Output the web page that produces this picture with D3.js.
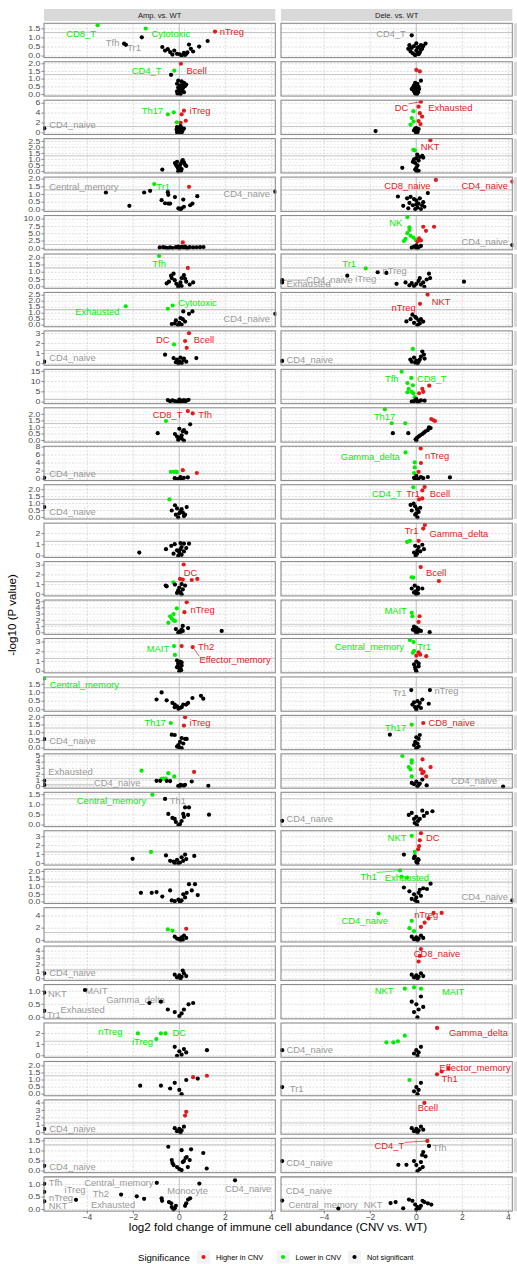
<!DOCTYPE html>
<html>
<head>
<meta charset="utf-8">
<script src="https://cdn.jsdelivr.net/npm/d3@7/dist/d3.min.js"></script>
<style>
  body { margin: 0; background: #fff; }
  svg text { font-family: "Liberation Sans", Arial, sans-serif; }
</style>
</head>
<body>
<script>
// facet columns and x axis
const columns = ["Amp. vs. WT", "Dele. vs. WT"];
const xTicks = [-4, -2, 0, 2, 4];

// y range (max of -log10 p) and tick step for each facet row
const rowYMax = [1.72, 2.03, 6.3, 2.6, 2.03, 10.7, 2.15, 2.6, 3.1, 15.2,
  2.38, 7.8, 2.25, 2.8, 3.2, 5.0, 3.2, 1.84, 2.02, 5.1,
  1.54, 3.5, 2.05, 5.1, 4.5, 1.2, 2.8, 2.2, 4.2, 1.55, 1.25];
const rowYStep = [0.5, 0.5, 2, 0.5, 0.5, 2.5, 0.5, 0.5, 1, 5,
  0.5, 2, 0.5, 1, 1, 1, 1, 0.5, 0.5, 1,
  0.5, 1, 0.5, 2, 1, 0.5, 1, 0.5, 1, 0.5, 0.5];

// points: [log2FC, -log10 p, significance] (0 = ns, 1 = higher, 2 = lower)
const ampPoints = [
  [[-3.55,1.7,2],[-1.46,1.52,2],[1.55,1.35,1],[-2.4,0.68,0],[-2.32,0.62,0],[-1.63,1.03,0],[-0.74,0.5,0],[-0.62,0.3,0],[-0.5,0.38,0],[-0.4,0.22,0],[-0.22,0.3,0],[-0.1,0.12,0],[0.02,0.1,0],[0.1,0.03,0],[0.2,0.18,0],[0.3,0.12,0],[0.35,0.2,0],[0.42,0.63,0],[0.5,0.4,0],[0.6,0.25,0],[0.86,0.52,0],[1.23,0.83,0],[-0.3,0.08,0],[0.25,0.06,0]],
  [[0.07,2.0,1],[-0.22,1.55,2],[-0.36,1.28,0],[-0.05,0.9,0],[0.1,0.85,0],[0.2,0.75,0],[-0.1,0.7,0],[0.05,0.6,0],[0.25,0.55,0],[-0.05,0.45,0],[0.15,0.4,0],[0.0,0.35,0],[0.1,0.25,0],[-0.1,0.2,0],[0.2,0.15,0],[0.0,0.1,0],[0.05,0.02,0],[-0.08,0.05,0],[0.12,0.6,0],[0.3,0.65,0],[0.0,0.5,0],[0.08,0.3,0]],
  [[0.2,4.5,1],[0.1,3.76,1],[0.28,2.46,1],[0.06,2.06,1],[-0.5,3.76,2],[-0.24,4.16,2],[-0.11,2.14,2],[-5.87,0.93,0],[-0.1,1.2,0],[0.1,1.0,0],[0.0,0.8,0],[-0.05,0.5,0],[0.05,0.3,0],[0.1,0.1,0],[0.0,0.0,0],[-0.1,0.2,0],[0.15,0.6,0],[0.05,1.4,0],[-0.12,0.7,0],[0.12,0.4,0],[0.0,1.1,0],[0.2,0.9,0],[-0.08,0.05,0],[0.07,0.15,0]],
  [[-0.74,0.15,0],[-0.19,0.7,0],[-0.1,0.8,0],[0.15,0.95,0],[0.25,0.55,0],[0.2,0.75,0],[0.03,0.3,0],[0.0,0.1,0],[-0.05,0.0,0],[0.1,0.2,0],[-0.1,0.4,0],[0.05,0.6,0],[0.3,0.45,0],[-0.15,0.55,0],[0.08,0.05,0],[0.0,0.45,0],[0.12,0.85,0],[-0.05,0.25,0]],
  [[-1.09,1.68,2],[0.42,1.5,1],[-3.19,1.13,0],[4.17,1.18,0],[-1.53,1.13,0],[-1.27,1.24,0],[-2.17,0.26,0],[-0.77,0.63,0],[-0.62,0.43,0],[-0.48,0.98,0],[-0.5,1.15,0],[-0.19,0.83,0],[0.17,0.67,0],[0.78,0.89,0],[0.57,0.41,0],[0.47,0.3,0],[-0.04,0.09,0],[0.1,0.1,0],[-0.48,0.41,0],[-0.4,0.41,0],[0.05,0.02,0],[0.2,0.2,0]],
  [[0.15,2.0,1],[-0.85,0.3,0],[-0.6,0.2,0],[-0.4,0.3,0],[-0.3,0.1,0],[-0.15,0.4,0],[0.0,0.2,0],[0.1,0.5,0],[0.2,0.3,0],[0.3,0.2,0],[0.45,0.4,0],[0.6,0.3,0],[0.75,0.35,0],[0.9,0.4,0],[1.05,0.45,0],[0.0,0.0,0],[-0.05,0.6,0],[0.35,0.05,0],[-0.5,0.05,0],[-0.7,0.4,0],[0.25,0.6,0]],
  [[-0.88,2.12,2],[0.37,1.3,1],[-0.36,0.76,0],[-0.33,0.6,0],[-0.55,0.23,0],[-0.45,0.35,0],[-0.2,0.45,0],[0.25,0.55,0],[0.1,0.6,0],[0.45,0.15,0],[0.6,0.3,0],[0.0,0.1,0],[-0.05,0.0,0],[0.1,0.05,0],[-0.13,0.2,0],[0.3,0.35,0],[-0.25,0.9,0],[0.2,0.8,0],[0.05,0.3,0]],
  [[-2.33,1.58,2],[-0.5,1.37,2],[-0.29,1.64,2],[0.17,1.15,0],[0.42,0.95,0],[0.57,1.15,0],[4.17,0.95,0],[-0.15,0.4,0],[0.0,0.2,0],[-0.33,0.1,0],[0.1,0.05,0],[-0.05,0.0,0],[0.05,0.6,0],[0.25,0.3,0],[-0.2,0.15,0],[0.15,0.5,0]],
  [[0.42,3.03,1],[0.25,2.25,1],[0.32,1.57,1],[-0.23,1.91,2],[-5.87,0.2,0],[-0.62,0.89,0],[0.74,0.55,0],[-0.25,0.55,0],[-0.1,0.4,0],[0.0,0.2,0],[0.17,0.35,0],[0.1,0.05,0],[-0.04,0.0,0],[0.05,0.6,0],[0.3,0.2,0],[-0.15,0.15,0],[0.2,0.5,0]],
  [[-0.5,1.0,0],[-0.3,0.8,0],[0.0,1.2,0],[0.2,1.0,0],[0.3,0.7,0],[0.1,0.3,0],[-0.1,0.2,0],[0.0,0.0,0],[-0.2,0.5,0],[0.15,0.6,0],[0.4,1.1,0],[-0.4,0.4,0],[0.05,0.9,0],[0.25,0.2,0]],
  [[0.37,2.25,1],[0.58,2.07,1],[-0.58,1.49,2],[0.47,1.24,0],[-0.94,0.56,0],[0.0,0.9,0],[0.2,0.8,0],[-0.19,0.5,0],[0.1,0.4,0],[0.0,0.2,0],[0.2,0.0,0],[-0.05,0.05,0],[0.3,0.6,0],[0.15,0.7,0],[-0.1,0.3,0],[0.1,0.15,0]],
  [[-0.37,1.8,2],[-0.25,1.8,2],[-0.11,1.75,2],[-0.15,1.85,2],[0.15,2.2,1],[0.76,1.5,1],[-5.87,0.3,0],[0.37,0.4,0],[-0.2,0.2,0],[0.0,0.1,0],[0.2,0.3,0],[0.05,0.5,0],[-0.1,0.0,0],[0.1,0.05,0]],
  [[-0.43,1.3,2],[-5.87,0.75,0],[-0.19,0.88,0],[0.32,0.75,0],[0.1,0.6,0],[0.0,0.3,0],[-0.15,0.2,0],[0.2,0.1,0],[-0.33,0.5,0],[-0.05,0.0,0],[0.05,0.45,0],[0.15,0.35,0],[0.25,0.2,0],[-0.1,0.65,0]],
  [[-1.74,0.3,0],[-0.58,0.6,0],[-0.35,0.9,0],[-0.2,1.05,0],[0.05,1.15,0],[0.2,1.1,0],[0.42,1.1,0],[0.1,0.8,0],[-0.1,0.5,0],[0.0,0.3,0],[0.1,0.1,0],[-0.05,0.0,0],[0.2,0.4,0],[0.05,0.6,0],[0.3,0.7,0],[-0.25,0.2,0]],
  [[0.19,3.06,1],[0.03,1.58,1],[0.15,1.52,1],[0.54,1.47,1],[0.78,1.58,1],[-0.26,1.23,2],[-0.59,0.9,0],[-0.55,0.82,0],[-0.19,1.0,0],[0.1,1.05,0],[0.0,0.7,0],[-0.05,0.4,0],[0.05,0.2,0],[0.1,0.0,0],[0.25,0.9,0],[-0.1,0.15,0],[0.15,0.5,0]],
  [[0.32,4.9,1],[0.22,3.3,1],[-0.11,3.9,2],[-0.25,3.0,2],[-0.4,2.65,2],[-0.33,2.3,2],[-0.25,2.0,2],[-0.19,1.9,2],[-0.48,1.6,2],[1.84,0.3,0],[0.15,1.1,0],[0.38,0.75,0],[0.1,0.5,0],[0.0,0.2,0],[-0.05,0.0,0],[0.15,0.3,0],[-0.15,0.6,0],[0.05,0.1,0]],
  [[-0.23,2.58,2],[-0.19,1.67,2],[0.1,2.58,1],[0.58,2.48,1],[-0.1,1.1,0],[0.03,1.0,0],[-0.05,0.8,0],[0.1,0.6,0],[-0.1,0.4,0],[0.03,0.2,0],[0.0,0.0,0],[0.1,0.9,0],[-0.07,0.5,0],[0.05,0.3,0],[0.08,0.1,0]],
  [[-5.87,1.84,2],[-0.77,1.02,0],[-0.99,0.6,0],[-0.55,0.55,0],[0.94,0.82,0],[1.04,0.65,0],[0.57,0.69,0],[0.38,0.4,0],[0.3,0.3,0],[-0.3,0.4,0],[-0.2,0.3,0],[-0.1,0.2,0],[0.03,0.1,0],[0.1,0.15,0],[0.17,0.3,0],[-0.04,0.05,0],[-0.2,0.15,0]],
  [[-0.37,1.63,2],[0.25,2.0,1],[0.2,1.46,1],[-5.87,0.59,0],[-0.33,0.87,0],[-0.2,0.85,0],[0.1,0.65,0],[0.25,0.6,0],[0.32,0.6,0],[0.03,0.4,0],[-0.04,0.2,0],[0.0,0.05,0],[0.17,0.3,0],[-0.1,0.1,0],[0.1,0.0,0]],
  [[-1.64,2.6,2],[-0.48,2.2,2],[-0.22,1.67,2],[-0.77,1.28,2],[-0.7,1.3,2],[-0.59,1.3,2],[0.64,2.4,1],[-5.87,0.95,0],[-5.87,0.28,0],[-0.99,0.95,0],[-0.83,0.95,0],[0.54,0.83,0],[1.26,0.12,0],[-0.05,0.1,0],[0.05,0.3,0],[0.1,0.2,0],[0.2,0.15,0],[0.25,0.3,0],[0.0,0.0,0],[-0.4,0.9,0],[-0.55,0.95,0]],
  [[-1.17,1.5,2],[-0.62,1.29,0],[0.25,0.87,0],[0.42,0.87,0],[1.29,0.51,0],[-0.48,0.55,0],[-0.3,0.35,0],[0.17,0.55,0],[0.38,0.5,0],[-0.15,0.15,0],[0.03,0.05,0],[-0.04,0.0,0],[0.1,0.2,0],[-0.2,0.3,0],[0.2,0.4,0]],
  [[-1.23,1.3,2],[-2.03,0.52,0],[-0.58,0.9,0],[0.25,1.0,0],[0.65,0.85,0],[0.1,0.7,0],[-0.4,0.3,0],[-0.25,0.2,0],[-0.1,0.4,0],[0.03,0.1,0],[-0.04,0.0,0],[-0.2,0.05,0],[0.17,0.3,0],[0.3,0.5,0]],
  [[-1.67,0.6,0],[-1.2,0.6,0],[-0.99,0.65,0],[-0.74,0.35,0],[-0.4,0.76,0],[0.42,1.17,0],[0.68,1.17,0],[0.54,0.76,0],[0.8,0.45,0],[0.32,0.6,0],[0.17,0.5,0],[-0.33,0.1,0],[-0.2,0.05,0],[0.03,0.0,0],[0.1,0.1,0],[-0.04,0.15,0],[0.25,0.3,0]],
  [[-0.3,1.6,2],[-0.5,1.8,2],[0.3,1.9,1],[0.0,0.2,0],[0.1,0.5,0],[-0.1,0.3,0],[0.2,0.8,0],[0.05,0.0,0],[-0.2,0.6,0],[0.3,0.4,0],[0.15,0.1,0]],
  [[-5.87,0.8,0],[0.0,0.5,0],[0.1,0.3,0],[-0.1,0.2,0],[0.2,0.8,0],[0.05,0.0,0],[-0.2,0.6,0],[0.3,0.4,0],[0.15,1.2,0]],
  [[-5.87,0.95,0],[-4.1,1.05,0],[-5.87,0.25,0],[-1.3,0.55,0],[-0.8,0.6,0],[-0.5,0.3,0],[-0.2,0.2,0],[0.0,0.05,0],[0.2,0.3,0],[0.4,0.5,0],[0.6,0.55,0],[0.1,0.15,0]],
  [[-1.8,2.0,2],[-0.8,2.0,2],[-0.6,2.0,2],[-1.0,1.5,2],[1.2,0.5,0],[-0.2,0.8,0],[0.0,0.4,0],[0.2,0.6,0],[0.1,0.1,0],[-0.1,0.0,0],[0.3,0.3,0]],
  [[0.6,1.2,1],[1.2,1.3,1],[-1.7,0.6,0],[-0.8,0.6,0],[-0.2,0.8,0],[0.3,1.0,0],[0.8,1.1,0],[0.0,0.3,0],[0.1,0.0,0],[-0.4,0.4,0]],
  [[0.3,2.8,1],[0.25,2.3,1],[-5.87,0.5,0],[0.0,0.5,0],[0.1,0.3,0],[-0.1,0.2,0],[0.2,0.8,0],[0.05,0.0,0],[-0.2,0.6,0]],
  [[-0.48,1.21,0],[0.1,1.04,0],[0.51,1.08,0],[1.04,0.9,0],[1.19,0.13,0],[0.32,0.7,0],[0.2,0.5,0],[0.15,0.45,0],[-0.33,0.55,0],[-0.3,0.4,0],[-0.25,0.3,0],[-0.1,0.2,0],[0.0,0.1,0],[0.1,0.05,0],[0.37,0.2,0],[0.45,0.55,0],[0.27,0.65,0],[-5.87,0.26,0]],
  [[-5.87,1.03,0],[-5.87,0.71,0],[-5.87,0.33,0],[-4.49,0.39,0],[-2.53,0.6,0],[-1.85,0.53,0],[-1.53,0.43,0],[-0.98,1.07,0],[0.87,1.04,0],[2.42,1.17,0],[-0.77,0.45,0],[-0.75,0.35,0],[-0.45,0.3,0],[-0.35,0.25,0],[-0.33,0.1,0],[-0.2,0.05,0],[-0.25,0.0,0],[-0.15,0.15,0],[0.25,0.15,0],[0.3,0.25,0],[0.38,0.4,0],[0.47,0.45,0]]
];
const delePoints = [
  [[-0.2,1.14,0],[0.4,0.69,0],[-0.3,0.6,0],[-0.2,0.45,0],[-0.1,0.55,0],[0.0,0.3,0],[0.1,0.5,0],[0.2,0.6,0],[0.25,0.4,0],[-0.25,0.25,0],[0.05,0.15,0],[-0.05,0.05,0],[0.15,0.2,0],[0.3,0.55,0],[-0.35,0.4,0],[0.0,0.7,0],[0.1,0.1,0],[-0.15,0.15,0],[0.2,0.35,0],[0.05,0.45,0]],
  [[0.0,1.6,1],[0.15,1.5,1],[0.2,0.9,0],[-0.05,0.75,0],[0.05,0.7,0],[-0.1,0.6,0],[0.0,0.55,0],[0.1,0.5,0],[-0.15,0.45,0],[0.0,0.4,0],[-0.05,0.3,0],[0.05,0.25,0],[-0.1,0.2,0],[0.08,0.15,0],[0.0,0.1,0],[-0.05,0.05,0],[0.02,0.02,0],[0.12,0.35,0],[-0.2,0.35,0]],
  [[0.2,6.3,1],[0.1,5.3,1],[0.15,4.0,1],[0.25,3.3,1],[0.1,2.4,1],[0.18,1.8,1],[-0.13,4.4,2],[-0.2,3.0,2],[-0.12,2.3,2],[-0.25,1.7,2],[-1.77,0.38,0],[0.0,1.0,0],[-0.05,0.6,0],[0.05,0.3,0],[0.0,0.1,0],[-0.1,0.5,0],[0.1,0.8,0],[0.0,0.0,0],[0.05,0.2,0],[-0.05,0.9,0]],
  [[0.61,2.6,1],[-0.13,1.8,2],[-0.07,1.75,2],[0.04,1.4,0],[0.26,1.3,0],[0.3,1.15,0],[-0.61,0.3,0],[0.0,1.1,0],[-0.1,1.0,0],[0.1,0.9,0],[-0.05,0.7,0],[0.05,0.5,0],[0.0,0.3,0],[-0.05,0.15,0],[0.02,0.02,0],[0.15,1.2,0],[-0.15,0.8,0],[0.1,0.05,0]],
  [[0.85,1.95,1],[4.17,1.84,1],[0.5,1.09,0],[-0.8,0.87,0],[-0.57,0.26,0],[-0.4,0.75,0],[-0.25,0.85,0],[-0.1,0.7,0],[0.0,0.6,0],[0.15,0.75,0],[0.3,0.5,0],[0.35,0.2,0],[-0.3,0.45,0],[-0.15,0.3,0],[0.05,0.15,0],[-0.05,0.05,0],[0.2,0.05,0],[0.1,0.4,0],[-0.35,0.1,0],[0.0,0.35,0],[0.25,0.3,0]],
  [[-0.39,10.7,2],[-0.3,7.2,2],[-0.3,6.3,2],[-0.39,5.2,2],[-0.47,3.2,2],[-0.25,4.3,2],[-0.13,3.7,2],[-0.03,2.9,2],[-0.54,2.5,2],[0.3,7.4,1],[0.77,7.4,1],[0.42,6.0,1],[0.12,3.4,1],[0.2,2.7,1],[0.05,2.3,1],[4.17,1.1,0],[0.0,1.0,0],[-0.1,0.6,0],[0.1,0.4,0],[0.0,0.1,0],[0.2,0.8,0],[-0.2,0.2,0],[0.05,0.0,0]],
  [[-2.2,1.26,2],[-3.0,0.76,0],[-1.68,1.0,0],[-1.3,0.95,0],[-5.83,0.45,0],[-5.83,0.3,0],[2.07,0.35,0],[0.55,0.9,0],[-0.86,0.2,0],[-0.47,0.3,0],[-0.3,0.1,0],[-0.1,0.05,0],[0.0,0.2,0],[0.1,0.4,0],[0.2,0.15,0],[0.3,0.3,0],[0.45,0.5,0],[0.6,0.6,0],[0.35,0.0,0],[-0.2,0.25,0],[0.15,0.6,0]],
  [[0.49,2.55,1],[0.16,1.78,1],[-0.17,0.87,0],[-0.43,0.31,0],[0.0,0.6,0],[0.1,0.4,0],[-0.1,0.2,0],[0.05,0.0,0],[0.2,0.5,0],[-0.05,0.7,0],[0.15,0.15,0],[0.3,0.3,0],[-0.25,0.5,0]],
  [[-0.15,1.46,2],[-5.83,0.27,0],[0.26,1.2,0],[0.33,0.9,0],[0.36,0.5,0],[-0.26,0.4,0],[-0.1,0.6,0],[0.0,0.3,0],[0.1,0.2,0],[0.05,0.0,0],[-0.05,0.1,0],[0.2,0.7,0],[0.15,0.4,0],[-0.2,0.2,0]],
  [[-0.64,14.8,2],[-0.22,11.8,2],[-0.39,9.3,2],[-0.15,8.2,2],[-0.33,6.4,2],[-0.39,4.8,2],[-0.2,5.0,2],[-0.13,4.3,2],[-0.07,2.4,2],[0.56,8.0,1],[0.26,6.5,1],[0.3,5.0,1],[0.12,4.3,1],[0.36,0.7,0],[0.0,1.0,0],[-0.1,0.5,0],[0.1,0.2,0],[0.05,0.0,0],[0.2,0.8,0],[-0.2,0.3,0],[0.0,1.5,0]],
  [[-1.37,2.38,2],[-1.07,1.32,2],[-0.48,1.32,2],[0.65,1.64,1],[0.81,1.49,1],[0.75,1.55,1],[-1.02,0.56,0],[-0.35,0.56,0],[-0.03,0.1,0],[0.03,0.2,0],[0.17,0.4,0],[0.33,0.6,0],[0.5,0.8,0],[0.62,0.95,0],[0.1,0.3,0],[0.26,0.5,0],[0.4,0.7,0],[0.0,0.0,0],[0.55,1.0,0]],
  [[-0.47,6.65,2],[-0.07,4.15,2],[-0.07,2.9,2],[-0.1,1.5,2],[0.19,7.65,1],[0.2,4.0,1],[0.1,1.8,1],[1.46,0.4,0],[0.5,0.5,0],[0.0,0.8,0],[-0.1,0.3,0],[0.1,0.1,0],[0.2,0.5,0],[-0.05,0.0,0],[0.3,0.2,0]],
  [[-0.13,2.18,2],[0.36,2.2,1],[0.26,1.95,1],[0.26,1.37,1],[0.12,1.3,1],[-0.12,1.0,0],[-0.05,0.8,0],[0.03,0.6,0],[0.1,0.4,0],[-0.05,0.2,0],[0.05,0.0,0],[-0.2,0.5,0],[0.17,0.7,0],[-0.25,0.9,0],[0.0,0.3,0]],
  [[0.37,2.78,1],[0.3,2.45,1],[0.1,1.35,1],[-0.28,1.35,2],[-0.4,1.25,2],[0.26,1.0,0],[0.1,0.8,0],[-0.05,0.9,0],[0.05,0.5,0],[0.17,0.4,0],[0.03,0.2,0],[-0.03,0.0,0],[0.33,0.6,0],[-0.1,0.3,0]],
  [[0.19,2.8,1],[0.98,1.37,1],[-0.2,1.75,2],[-0.13,1.72,2],[-0.07,0.9,0],[0.07,0.7,0],[0.07,0.5,0],[-0.03,0.3,0],[0.07,0.1,0],[0.26,0.6,0],[-0.2,0.6,0],[0.0,0.0,0],[-0.1,0.2,0]],
  [[-0.2,3.2,2],[-0.17,2.65,2],[0.14,2.65,1],[0.1,1.75,1],[0.58,0.1,0],[-0.1,1.0,0],[0.0,0.8,0],[0.1,0.5,0],[-0.05,0.3,0],[0.05,0.1,0],[-0.15,0.5,0],[0.2,0.3,0],[0.0,0.0,0]],
  [[-0.28,3.2,2],[-0.12,3.0,2],[-0.1,2.1,2],[-0.15,1.9,2],[0.1,1.95,1],[0.17,1.7,1],[0.43,1.55,1],[0.0,1.6,1],[0.0,1.0,0],[-0.1,0.7,0],[0.1,0.5,0],[-0.03,0.2,0],[0.0,0.0,0],[0.1,0.8,0],[-0.05,0.4,0]],
  [[-0.22,1.16,0],[0.59,1.16,0],[-0.1,0.43,0],[0.26,0.6,0],[0.54,0.35,0],[0.1,0.2,0],[0.0,0.0,0],[-0.17,0.3,0],[0.05,0.5,0],[0.2,0.1,0],[-0.05,0.15,0],[0.15,0.4,0]],
  [[-0.2,1.52,2],[0.3,1.63,1],[-1.15,0.87,0],[0.0,0.7,0],[-0.05,0.4,0],[0.1,0.6,0],[-0.1,0.2,0],[0.0,0.0,0],[0.15,0.85,0],[0.05,0.3,0],[0.1,0.1,0]],
  [[-0.61,5.0,2],[-0.2,4.3,2],[-0.2,3.9,2],[-0.33,3.2,2],[-0.25,2.8,2],[-0.2,1.67,2],[0.27,4.45,1],[0.62,3.2,1],[0.2,2.8,1],[0.32,2.4,1],[0.26,2.2,1],[0.43,1.67,1],[3.77,0.0,0],[0.26,1.15,0],[0.45,0.2,0],[0.0,0.8,0],[-0.1,0.4,0],[0.1,0.3,0],[0.05,0.0,0],[-0.2,0.6,0],[0.15,0.5,0]],
  [[-5.83,0.21,0],[0.26,0.71,0],[0.7,0.68,0],[0.46,0.6,0],[-0.33,0.5,0],[-0.2,0.6,0],[0.0,0.4,0],[0.07,0.2,0],[0.15,0.3,0],[-0.07,0.1,0],[0.03,0.0,0],[0.33,0.45,0],[-0.1,0.3,0]],
  [[-0.2,3.1,2],[-0.07,1.3,2],[0.2,3.4,1],[0.15,2.6,1],[0.12,1.95,1],[0.08,1.6,1],[-0.54,1.0,0],[-0.07,0.8,0],[0.07,0.5,0],[0.0,0.2,0],[0.05,0.0,0],[0.1,0.4,0],[-0.1,0.6,0]],
  [[-0.71,2.07,2],[-0.64,1.67,2],[-0.4,1.6,2],[4.17,0.1,0],[-0.54,0.95,0],[0.3,0.9,0],[0.46,0.85,0],[0.62,1.2,0],[-0.3,0.7,0],[-0.1,0.5,0],[0.0,0.3,0],[0.1,0.6,0],[0.2,0.4,0],[-0.2,0.2,0],[0.05,0.0,0],[0.15,0.8,0],[-0.05,0.1,0]],
  [[-1.64,4.4,2],[-0.2,3.2,2],[-0.3,2.0,2],[-0.1,1.5,2],[0.75,4.5,1],[1.1,4.5,1],[0.53,3.6,1],[0.36,2.9,1],[0.2,2.2,1],[0.0,0.5,0],[0.1,0.3,0],[-0.1,0.2,0],[0.2,0.8,0],[0.05,0.0,0],[-0.2,0.6,0],[0.3,0.4,0]],
  [[0.2,4.3,1],[0.15,3.3,1],[0.1,2.5,1],[0.0,0.5,0],[0.1,0.3,0],[-0.1,0.2,0],[0.2,0.8,0],[0.05,0.0,0],[-0.2,0.6,0],[0.3,0.4,0]],
  [[-0.5,1.1,2],[-0.1,1.15,2],[0.2,1.1,2],[0.0,0.5,0],[0.1,0.3,0],[-0.1,0.2,0],[0.2,0.8,0],[0.05,0.0,0],[-0.2,0.6,0],[0.3,0.4,0]],
  [[0.9,2.5,1],[-0.5,1.8,2],[-0.8,1.3,2],[-1.0,1.2,2],[-1.3,1.2,2],[-5.83,0.5,0],[0.0,0.5,0],[0.1,0.3,0],[-0.1,0.2,0],[0.2,0.8,0],[0.05,0.0,0]],
  [[1.1,1.6,1],[1.4,1.8,1],[0.9,1.4,1],[-0.3,1.0,2],[-5.83,0.5,0],[0.0,0.5,0],[0.1,0.3,0],[-0.1,0.2,0],[0.2,0.8,0],[0.05,0.0,0]],
  [[0.35,4.0,1],[0.0,0.5,0],[0.1,0.3,0],[-0.1,0.2,0],[0.2,0.8,0],[0.05,0.0,0],[-0.2,0.6,0],[0.3,0.4,0]],
  [[0.48,1.5,1],[0.55,1.25,0],[-5.83,0.5,0],[-0.78,0.31,0],[-0.43,0.31,0],[0.3,0.95,0],[0.25,0.8,0],[0.4,0.73,0],[-0.1,0.5,0],[0.0,0.3,0],[0.2,0.45,0],[0.28,0.2,0],[0.15,0.1,0],[0.05,0.0,0]],
  [[-5.83,0.36,0],[-3.39,0.04,0],[-1.12,0.26,0],[-0.9,0.3,0],[-0.57,0.05,0],[-0.32,0.4,0],[-0.17,0.35,0],[-0.05,0.2,0],[0.0,0.0,0],[0.05,0.1,0],[0.2,0.15,0],[0.35,0.3,0],[0.5,0.25,0],[0.65,0.2,0],[0.27,0.35,0],[0.13,0.05,0]]
];

// labels: [row, name, significance, labelX, labelY, pointX, pointY] (point only where a leader line is drawn)
const ampLabels = [
  [0,"CD8_T",2,-4.27,1.27],[0,"Tfh",0,-2.9,0.75],[0,"Tr1",0,-1.97,0.47],[0,"Cytotoxic",2,-0.37,1.27],[0,"nTreg",1,2.28,1.35],
  [1,"CD4_T",2,-1.42,1.55],[1,"Bcell",1,0.75,1.55],
  [2,"CD4_naive",0,-4.64,1.74],[2,"Th17",2,-1.17,4.63],[2,"iTreg",1,0.9,4.63],
  [4,"Central_memory",0,-4.15,1.53],[4,"Tr1",2,-0.7,1.53],[4,"CD4_naive",0,2.93,1.09],
  [6,"Tfh",2,-0.88,1.6],
  [7,"Exhausted",2,-3.56,1.17],[7,"Cytotoxic",2,0.79,1.92],[7,"CD4_naive",0,2.93,0.53],
  [8,"DC",1,-0.72,2.42],[8,"Bcell",1,1.07,2.42],[8,"CD4_naive",0,-4.64,0.61],
  [10,"CD8_T",1,-0.51,1.95],[10,"Tfh",1,1.12,1.95],
  [11,"CD4_naive",0,-4.64,1.25],
  [12,"CD4_naive",0,-4.64,0.45],
  [14,"DC",1,0.49,2.28],
  [15,"nTreg",1,1.01,3.75],
  [16,"MAIT",2,-0.93,2.3],[16,"Th2",1,1.16,2.58],[16,"Effector_memory",1,2.42,1.17,0.58,2.48],
  [17,"Central_memory",2,-4.13,1.47],
  [18,"Th17",2,-1.05,1.63],[18,"iTreg",1,0.9,1.63],[18,"CD4_naive",0,-4.64,0.52],
  [19,"Exhausted",0,-4.73,2.5],[19,"CD4_naive",0,-2.7,0.72,-5.87,0.28],
  [20,"Central_memory",2,-2.95,1.2],[20,"Th1",0,-0.06,1.2],
  [24,"CD4_naive",0,-4.64,0.9],
  [25,"NKT",0,-5.3,0.9],[25,"MAIT",0,-3.6,1.05],[25,"Gamma_delta",0,-1.9,0.7],[25,"Tr1",0,-5.45,0.1],[25,"Exhausted",0,-4.2,0.3],
  [26,"nTreg",2,-3.0,2.2],[26,"DC",2,0.0,2.1],[26,"iTreg",2,-1.6,1.3],
  [28,"CD4_naive",0,-4.64,0.6],
  [29,"CD4_naive",0,-4.64,0.22],
  [30,"Tfh",0,-5.38,1.07],[30,"iTreg",0,-4.53,0.79],[30,"nTreg",0,-5.14,0.5],[30,"NKT",0,-5.27,0.17],[30,"Th2",0,-3.41,0.64],
  [30,"Exhausted",0,-2.88,0.21],[30,"Central_memory",0,-2.63,1.07],[30,"Monocyte",0,0.36,0.76],[30,"CD4_naive",0,2.99,0.83]
];
const deleLabels = [
  [0,"CD4_T",0,-1.1,1.27],
  [2,"DC",1,-0.64,5.17,0.2,6.3],[2,"Exhausted",1,1.48,5.17],
  [3,"NKT",1,0.6,2.1],
  [4,"CD8_naive",1,-0.39,1.56],[4,"CD4_naive",1,2.97,1.56],
  [5,"NK",2,-0.89,8.9],[5,"CD4_naive",0,2.97,2.3],
  [6,"Tr1",2,-2.92,1.6],[6,"iTreg",0,-2.2,0.59],[6,"nTreg",0,-0.94,1.13],[6,"CD4_naive",0,-3.77,0.52,-5.83,0.45],[6,"Exhausted",0,-4.68,0.23],
  [7,"nTreg",1,-0.55,1.5],[7,"NKT",1,1.08,1.97],
  [8,"CD4_naive",0,-4.63,0.44],
  [9,"Tfh",2,-1.07,11.3],[9,"CD8_T",2,0.67,11.3],
  [10,"Th17",2,-1.38,1.82],
  [11,"Gamma_delta",2,-2.0,5.6],[11,"nTreg",1,0.9,5.8],
  [12,"CD4_T",2,-1.28,1.75],[12,"Tr1",1,-0.14,1.7],[12,"Bcell",1,1.03,1.75],
  [13,"Tr1",1,-0.21,2.3],[13,"Gamma_delta",1,1.85,2.0],
  [14,"Bcell",1,0.86,2.2],
  [15,"MAIT",2,-0.9,3.6],
  [16,"Central_memory",2,-2.04,2.58],[16,"Tr1",2,0.34,2.58],
  [17,"Tr1",0,-0.73,1.02],[17,"nTreg",0,1.31,1.16],
  [18,"Th17",2,-0.9,1.35],[18,"CD8_naive",1,1.54,1.63],
  [19,"CD4_naive",0,2.51,0.95],
  [20,"CD4_naive",0,-4.63,0.3],
  [21,"NKT",2,-0.84,2.9],[21,"DC",1,0.71,2.9],
  [22,"Th1",2,-2.07,1.7,-0.71,2.07],[22,"Exhausted",2,-0.41,1.6],[22,"CD4_naive",0,2.97,0.33],
  [23,"CD4_naive",2,-2.24,3.25],[23,"nTreg",1,0.43,4.22],
  [24,"CD8_naive",1,0.9,3.7],
  [25,"NKT",2,-1.4,1.05],[25,"MAIT",2,1.6,1.0],
  [26,"Gamma_delta",1,2.7,2.1],[26,"CD4_naive",0,-4.63,0.6],
  [27,"Effector_memory",1,2.55,1.85],[27,"Th1",1,1.45,1.1],[27,"Tr1",0,-5.2,0.4],
  [28,"Bcell",1,0.5,3.4],
  [29,"CD4_T",1,-1.17,1.25,0.48,1.5],[29,"Tfh",0,1.01,1.16],[29,"CD4_naive",0,-4.64,0.44],
  [30,"CD4_naive",0,-4.67,0.76],[30,"Central_memory",0,-4.05,0.21],[30,"NKT",0,-1.88,0.21]
];

const legendItems = [["Higher in CNV", 1], ["Lower in CNV", 2], ["Not significant", 0]];

// layout
const width = 517, height = 1264;
const colX = [44, 281];
const panelW = 231.3, panelH = 34.3, top0 = 23.3, pitch = 38.45;
const pointColor = {0: "#000000", 1: "#e31a1c", 2: "#00ee00"};
const labelColor = {0: "#999999", 1: "#e31a1c", 2: "#00ee00"};

const svg = d3.select("body").append("svg")
  .attr("width", width)
  .attr("height", height);

const x = d3.scaleLinear().domain([-5.88, 4.17]).range([0, panelW]);
const xMinor = [-5, -3, -1, 1, 3];

const fmt = step => (step % 1 !== 0) ? d3.format(".1f") : d3.format("d");

// strips on top
columns.forEach((c, ci) => {
  svg.append("rect").attr("x", colX[ci]).attr("y", 9).attr("width", panelW).attr("height", 12)
    .attr("fill", "#d9d9d9");
  svg.append("text").attr("x", colX[ci] + panelW / 2).attr("y", 15.2)
    .attr("text-anchor", "middle").attr("dominant-baseline", "central")
    .attr("font-size", "7.6px").attr("fill", "#1a1a1a").text(c);
});

const allPoints = [ampPoints, delePoints];
const allLabels = [ampLabels, deleLabels];

rowYMax.forEach((m, r) => {
  const top = top0 + r * pitch;
  const y = d3.scaleLinear().domain([-0.05 * m, 1.05 * m]).range([panelH, 0]);
  const step = rowYStep[r];
  const ticks = d3.range(0, 1.05 * m + 1e-9, step);
  const minor = d3.range(step / 2, 1.05 * m, step);

  // right side strip (cut off)
  svg.append("rect").attr("x", 513.8).attr("y", top).attr("width", 10).attr("height", panelH)
    .attr("fill", "#d9d9d9");

  // y axis labels (shared by the row), slightly squashed like the source
  const ya = svg.append("g").attr("transform", `translate(${colX[0]},${top})`);
  ticks.forEach(t => {
    ya.append("line").attr("x1", -2.5).attr("x2", 0).attr("y1", y(t)).attr("y2", y(t))
      .attr("stroke", "#333").attr("stroke-width", 0.6);
    ya.append("text").attr("transform", `translate(-3.5,${y(t)}) scale(1,0.82)`)
      .attr("text-anchor", "end")
      .attr("dominant-baseline", "central").attr("font-size", "8.8px").attr("fill", "#4d4d4d")
      .text(fmt(step)(t));
  });

  columns.forEach((c, ci) => {
    const g = svg.append("g").attr("transform", `translate(${colX[ci]},${top})`);
    g.append("rect").attr("width", panelW).attr("height", panelH).attr("fill", "#fff");
    // grid
    xMinor.forEach(v => g.append("line").attr("x1", x(v)).attr("x2", x(v)).attr("y1", 0).attr("y2", panelH)
      .attr("stroke", "#e6e6e6").attr("stroke-width", 0.6).attr("stroke-dasharray", "1.5,1.5"));
    minor.forEach(v => g.append("line").attr("x1", 0).attr("x2", panelW).attr("y1", y(v)).attr("y2", y(v))
      .attr("stroke", "#e6e6e6").attr("stroke-width", 0.6).attr("stroke-dasharray", "1.5,1.5"));
    xTicks.forEach(v => g.append("line").attr("x1", x(v)).attr("x2", x(v)).attr("y1", 0).attr("y2", panelH)
      .attr("stroke", "#d4d4d4").attr("stroke-width", 0.8).attr("stroke-dasharray", "2,1.5"));
    ticks.forEach(v => g.append("line").attr("x1", 0).attr("x2", panelW).attr("y1", y(v)).attr("y2", y(v))
      .attr("stroke", "#d4d4d4").attr("stroke-width", 0.8).attr("stroke-dasharray", "2,1.5"));
    // reference lines
    g.append("line").attr("x1", x(0)).attr("x2", x(0)).attr("y1", 0).attr("y2", panelH)
      .attr("stroke", "#c8c8c8").attr("stroke-width", 1.1);
    if (-Math.log10(0.05) < 1.05 * m) {
      g.append("line").attr("x1", 0).attr("x2", panelW).attr("y1", y(-Math.log10(0.05))).attr("y2", y(-Math.log10(0.05)))
        .attr("stroke", "#c8c8c8").attr("stroke-width", 1.1);
    }

    const clipId = `clip-${r}-${ci}`;
    g.append("clipPath").attr("id", clipId).append("rect")
      .attr("x", -1).attr("y", -1).attr("width", panelW + 2).attr("height", panelH + 2);
    const inner = g.append("g").attr("clip-path", `url(#${clipId})`);

    // labels with optional leader lines
    const labs = allLabels[ci].filter(d => d[0] === r);
    labs.forEach(d => {
      const t = inner.append("text").attr("x", x(d[3])).attr("y", y(d[4]))
        .attr("text-anchor", "middle").attr("dominant-baseline", "central")
        .attr("font-size", "9.4px").attr("fill", labelColor[d[2]]).text(d[1]);
      if (d.length > 5) {
        const b = t.node().getBBox();
        const px = x(d[5]), py = y(d[6]);
        const ex = Math.max(b.x, Math.min(px, b.x + b.width));
        const ey = Math.max(b.y + 2, Math.min(py, b.y + b.height - 2));
        inner.insert("line", "text").attr("x1", px).attr("y1", py).attr("x2", ex).attr("y2", ey)
          .attr("stroke", labelColor[d[2]]).attr("stroke-width", 0.7);
      }
    });

    inner.selectAll("circle.pt").data(allPoints[ci][r]).enter().append("circle")
      .attr("class", "pt")
      .attr("cx", d => x(d[0])).attr("cy", d => y(d[1])).attr("r", 2.1)
      .attr("fill", d => pointColor[d[2]]);

    g.append("rect").attr("width", panelW).attr("height", panelH)
      .attr("fill", "none").attr("stroke", "#8c8c8c").attr("stroke-width", 1.1);

    // bottom x axis
    if (r === rowYMax.length - 1) {
      xTicks.forEach(v => {
        g.append("line").attr("x1", x(v)).attr("x2", x(v)).attr("y1", panelH).attr("y2", panelH + 2.5)
          .attr("stroke", "#333").attr("stroke-width", 0.6);
        g.append("text").attr("x", x(v)).attr("y", panelH + 6).attr("text-anchor", "middle")
          .attr("dominant-baseline", "central").attr("font-size", "8.6px").attr("fill", "#4d4d4d")
          .text(v < 0 ? "\u2212" + Math.abs(v) : v);
      });
    }
  });
});

// axis titles
svg.append("text").attr("x", 278).attr("y", 1231).attr("text-anchor", "middle")
  .attr("font-size", "11.6px").attr("fill", "#000")
  .text("log2 fold change of immune cell abundance (CNV vs. WT)");
svg.append("text").attr("transform", "translate(16,615) rotate(-90)").attr("text-anchor", "middle")
  .attr("font-size", "11.6px").attr("fill", "#000").text("-log10 (P value)");

// legend
const lg = svg.append("g").attr("transform", "translate(0,1257)");
lg.append("text").attr("x", 138).attr("y", 0).attr("dominant-baseline", "central")
  .attr("font-size", "9.6px").text("Significance");
const keyX = [197, 276.5, 348];
legendItems.forEach((d, i) => {
  lg.append("rect").attr("x", keyX[i]).attr("y", -6.5).attr("width", 13).attr("height", 13).attr("fill", "#f2f2f2");
  lg.append("circle").attr("cx", keyX[i] + 6.5).attr("cy", 0).attr("r", 2.1).attr("fill", pointColor[d[1]]);
  lg.append("text").attr("x", keyX[i] + 19).attr("y", 0).attr("dominant-baseline", "central")
    .attr("font-size", "7.4px").text(d[0]);
});
</script>
</body>
</html>
